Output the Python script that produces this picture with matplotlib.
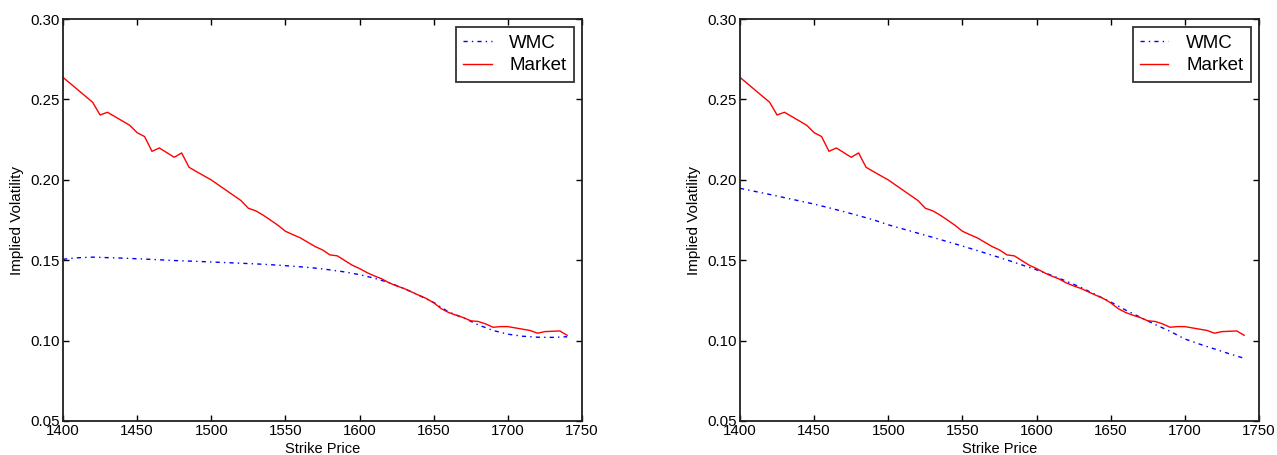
import matplotlib
matplotlib.use("Agg")
import matplotlib.pyplot as plt

plt.rcParams['font.family'] = ['Liberation Sans', 'DejaVu Sans']

strike_market = [1400, 1420, 1425, 1430, 1445, 1450, 1455, 1460, 1465, 1475, 1480,
                 1485, 1490, 1500, 1520, 1525, 1530, 1535, 1540, 1545, 1550, 1555,
                 1560, 1565, 1570, 1575, 1580, 1585, 1590, 1595, 1600, 1605, 1610,
                 1615, 1620, 1625, 1630, 1635, 1640, 1645, 1650, 1655, 1660, 1665,
                 1670, 1675, 1680, 1685, 1690, 1695, 1700, 1705, 1710, 1715, 1720,
                 1725, 1730, 1735, 1740]
market_iv = [0.2637, 0.2482, 0.2403, 0.2420, 0.2339, 0.2293, 0.2269, 0.2177, 0.2198,
             0.2140, 0.2167, 0.2078, 0.2051, 0.1999, 0.1871, 0.1823, 0.1807, 0.1780,
             0.1749, 0.1717, 0.1680, 0.1659, 0.1639, 0.1612, 0.1585, 0.1564, 0.1533,
             0.1527, 0.1498, 0.1469, 0.1448, 0.1423, 0.1402, 0.1384, 0.1359, 0.1340,
             0.1324, 0.1303, 0.1282, 0.1262, 0.1235, 0.1199, 0.1175, 0.1158, 0.1143,
             0.1123, 0.1119, 0.1104, 0.1083, 0.1087, 0.1087, 0.1079, 0.1071, 0.1063,
             0.1046, 0.1056, 0.1058, 0.1060, 0.1033]

strike_wmc = [1400, 1410, 1420, 1430, 1440, 1450, 1460, 1470, 1480, 1490, 1500, 1510,
              1520, 1530, 1540, 1550, 1560, 1570, 1580, 1590, 1600, 1610, 1620, 1630,
              1640, 1650, 1660, 1670, 1680, 1690, 1700, 1710, 1720, 1730, 1740]
wmc_left = [0.1506, 0.1515, 0.1519, 0.1516, 0.1513, 0.1509, 0.1505, 0.1500, 0.1496,
            0.1493, 0.1489, 0.1485, 0.1481, 0.1477, 0.1472, 0.1466, 0.1459, 0.1451,
            0.1440, 0.1427, 0.1410, 0.1388, 0.1360, 0.1324, 0.1282, 0.1237, 0.1178,
            0.1142, 0.1098, 0.1063, 0.1040, 0.1027, 0.1021, 0.1020, 0.1024]
wmc_right = [0.1947, 0.1928, 0.1909, 0.1889, 0.1869, 0.1849, 0.1826, 0.1802, 0.1777,
             0.1751, 0.1720, 0.1694, 0.1668, 0.1642, 0.1615, 0.1588, 0.1560, 0.1531,
             0.1502, 0.1471, 0.1440, 0.1406, 0.1370, 0.1330, 0.1285, 0.1240, 0.1190,
             0.1145, 0.1100, 0.1058, 0.1010, 0.0978, 0.0948, 0.0918, 0.0890]

x_ticks = [1400, 1450, 1500, 1550, 1600, 1650, 1700, 1750]
y_ticks = [0.05, 0.10, 0.15, 0.20, 0.25, 0.30]

W, H = 1277, 455
fig = plt.figure(figsize=(W / 100, H / 100), dpi=100)

def box(l, r, t, b):
    return [l / W, 1 - b / H, (r - l) / W, (b - t) / H]

axes = [fig.add_axes(box(63, 582, 19, 421)), fig.add_axes(box(740, 1259, 19, 421))]

for ax, wmc in zip(axes, [wmc_left, wmc_right]):
    ax.plot(strike_wmc, wmc, color='blue', lw=1.0, linestyle=(0, (3, 3, 1, 3)), label='WMC')
    ax.plot(strike_market, market_iv, color='red', lw=1.0, label='Market')
    ax.set_xlim(1400, 1750)
    ax.set_ylim(0.05, 0.30)
    ax.set_xticks(x_ticks)
    ax.set_yticks(y_ticks)
    ax.set_xticklabels([str(v) for v in x_ticks])
    ax.set_yticklabels(['%.2f' % v for v in y_ticks])
    ax.tick_params(direction='in', length=4, width=1, top=True, right=True,
                   labelsize=10.8, pad=2)
    for s in ax.spines.values():
        s.set_linewidth(1.3)
        s.set_color('#202020')
    ax.set_xlabel('Strike Price', fontsize=10.5, labelpad=3)
    ax.set_ylabel('Implied Volatility', fontsize=11, labelpad=5)
    leg = ax.legend(loc='upper right', fontsize=13.5, frameon=True, fancybox=False,
                    edgecolor='black', handlelength=1.5, handletextpad=0.95,
                    borderpad=0.38, labelspacing=0.3, borderaxespad=0.45)
    leg.get_frame().set_linewidth(1.3)

fig.savefig('out.png', dpi=100)
